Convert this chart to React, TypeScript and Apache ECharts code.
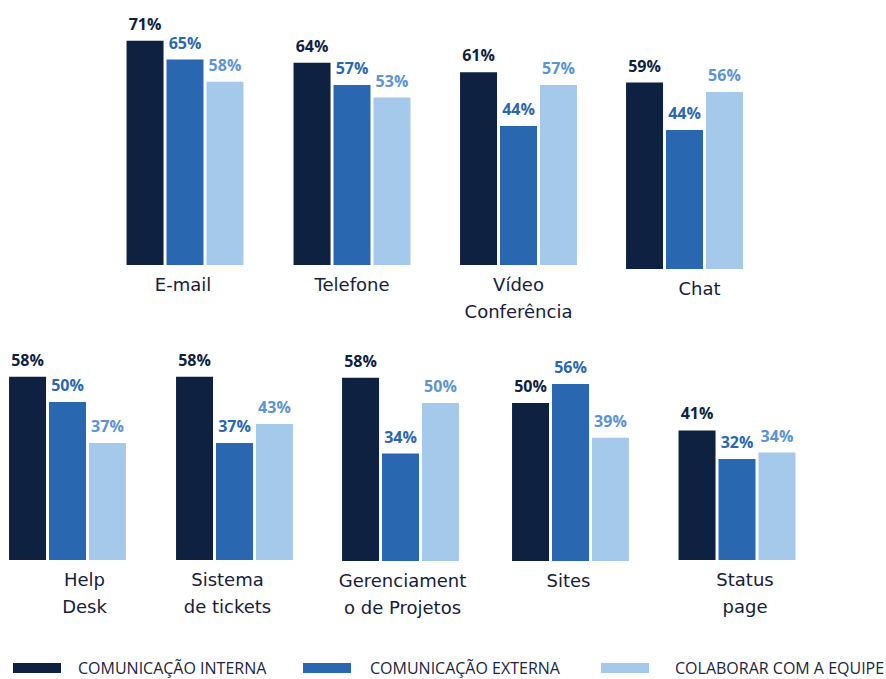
import React, { useEffect, useRef } from "react";
import * as echarts from "echarts";

const categories = [
  "E-mail",
  "Telefone",
  "Vídeo\nConferência",
  "Chat",
  "Help\nDesk",
  "Sistema\nde tickets",
  "Gerenciament\no de Projetos",
  "Sites",
  "Status\npage",
];
const seriesNames = ["COMUNICAÇÃO INTERNA", "COMUNICAÇÃO EXTERNA", "COLABORAR COM A EQUIPE"];
const interna = [71, 64, 61, 59, 58, 58, 58, 50, 41];
const externa = [65, 57, 44, 44, 50, 37, 34, 56, 32];
const equipe = [58, 53, 57, 56, 37, 43, 50, 39, 34];

// layout (pixels)
const groupCenters = [185, 352, 518.5, 684.5, 67.5, 234.5, 400.5, 570.5, 737];
const baselines = [265, 265, 265, 269, 560, 560, 561, 561, 560];
const labelShift = [-2, 0, 0, 15, 17, -7, 2, -2, 8];
const legendLefts = [13, 303, 601];
const legendTextGap = [12, 14, 21];

const barColors = ["#0e2141", "#2968b1", "#a4c9ea"];
const valueColors = ["#0e2141", "#2a67b1", "#5b93d3"];
const PX_PER_UNIT = 3.16;
const Y_MAX = 80;

export default function App() {
  const ref = useRef<HTMLDivElement>(null);
  useEffect(() => {
    document.body.style.margin = "0";
    const chart = echarts.init(ref.current!, null, { renderer: "svg" });
    const gh = Y_MAX * PX_PER_UNIT;
    const grids: any[] = [];
    const xAxes: any[] = [];
    const yAxes: any[] = [];
    const series: any[] = [];
    const valuesBySeries = [interna, externa, equipe];
    categories.forEach((cat, i) => {
      grids.push({
        left: groupCenters[i] - 60,
        width: 120,
        top: baselines[i] - gh,
        height: gh,
      });
      const shift = labelShift[i];
      xAxes.push({
        type: "category",
        gridIndex: i,
        data: [cat],
        axisLine: { show: false },
        axisTick: { show: false },
        axisLabel: {
          margin: 6,
          color: "#16203a",
          fontFamily: "DejaVu Sans",
          fontSize: 18,
          lineHeight: 27,
          padding: shift >= 0 ? [0, 0, 0, shift * 2] : [0, -shift * 2, 0, 0],
          interval: 0,
        },
      });
      yAxes.push({ type: "value", gridIndex: i, min: 0, max: Y_MAX, show: false });
      valuesBySeries.forEach((vals, s) => {
        series.push({
          type: "bar",
          name: seriesNames[s],
          xAxisIndex: i,
          yAxisIndex: i,
          data: [vals[i]],
          barWidth: 37,
          barGap: "8%",
          clip: false,
          itemStyle: { color: barColors[s] },
          label: {
            show: true,
            position: "top",
            distance: 9,
            formatter: "{c}%",
            color: valueColors[s],
            fontFamily: "Open Sans",
            fontWeight: "bold",
            fontSize: 16,
          },
        });
      });
    });
    const legends = seriesNames.map((n, s) => ({
      data: [n],
      left: legendLefts[s],
      top: 660,
      padding: 0,
      itemWidth: 48,
      itemHeight: 10,
      icon: "rect",
      selectedMode: false,
      textStyle: {
        color: "#1a2540",
        fontFamily: "Open Sans",
        fontSize: 16,
        padding: [0, 0, 0, legendTextGap[s]],
      },
    }));
    chart.setOption({
      animation: false,
      backgroundColor: "#ffffff",
      grid: grids,
      xAxis: xAxes,
      yAxis: yAxes,
      legend: legends,
      series,
    });
    return () => chart.dispose();
  }, []);
  return <div ref={ref} style={{ width: 886, height: 679 }} />;
}
